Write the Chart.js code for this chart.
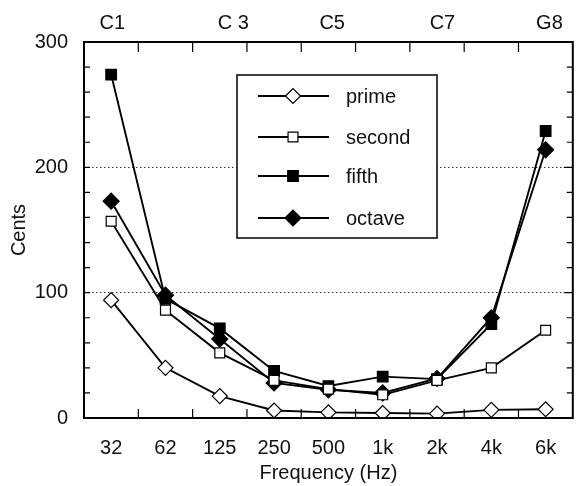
<!DOCTYPE html>
<html>
<head>
<meta charset="utf-8">
<script src="https://cdn.jsdelivr.net/npm/chart.js@4.4.1/dist/chart.umd.min.js"></script>
<style>
  html, body { margin: 0; padding: 0; background: #fff; }
  #wrap { width: 582px; height: 486px; position: relative; }
</style>
</head>
<body>
<div id="wrap"><canvas id="chart"></canvas></div>
<script>
// Frequency bands (bottom axis) and note names (top axis)
const freqLabels = ["32", "62", "125", "250", "500", "1k", "2k", "4k", "6k"];
const noteLabels = ["C1", "C 3", "C5", "C7", "G8"];
const notePositions = [0.02, 2.25, 4.07, 6.1, 8.07]; // in band-index units

// Cents per interval type
const prime = [94, 40, 17.5, 6, 4.5, 4, 3.5, 6.5, 7];
const second = [157, 86, 52, 30, 23, 18.5, 30, 40, 70];
const fifth = [274, 95, 71.5, 37.5, 25.5, 33, 31, 75, 229];
const octave = [173, 98, 63, 28, 22.5, 20, 31.5, 80, 214];

const yTicks = [0, 100, 200, 300];
const dottedLevels = [100, 200];

const FONT = "'Liberation Sans', Arial, sans-serif";
const INK = "#111";
const SIZE = 20;

function series(label, data, style, filled, radius) {
  return {
    label,
    data,
    borderColor: "#000",
    borderWidth: 1.9,
    tension: 0,
    pointStyle: style,
    pointRadius: radius,
    pointHoverRadius: radius,
    pointBackgroundColor: filled ? "#000" : "#fff",
    pointBorderColor: "#000",
    pointBorderWidth: 1.2,
  };
}

// Box, inward ticks and the boxed legend
const framePlugin = {
  id: "frame",
  afterDraw(chart) {
    const { ctx, chartArea: a } = chart;
    const x = chart.scales.x;
    const y = chart.scales.y;
    ctx.save();
    ctx.strokeStyle = "#000";
    ctx.lineWidth = 2;
    ctx.strokeRect(a.left, a.top, a.right - a.left, a.bottom - a.top);

    ctx.lineWidth = 1.2;
    ctx.beginPath();
    for (let i = 1; i < freqLabels.length; i += 1) {
      const bx = (x.getPixelForValue(i - 1) + x.getPixelForValue(i)) / 2;
      ctx.moveTo(bx, a.bottom);
      ctx.lineTo(bx, a.bottom - 9);
      ctx.moveTo(bx, a.top);
      ctx.lineTo(bx, a.top + 10);
    }
    for (let v = 20; v < 300; v += 20) {
      const py = y.getPixelForValue(v);
      const len = v % 100 === 0 ? 9 : 6;
      ctx.moveTo(a.left, py);
      ctx.lineTo(a.left + 6, py);
      ctx.moveTo(a.right, py);
      ctx.lineTo(a.right - len, py);
    }
    ctx.stroke();

    // legend
    const box = { left: 237, top: 75, right: 437, bottom: 238 };
    ctx.fillStyle = "#fff";
    ctx.fillRect(box.left, box.top, box.right - box.left, box.bottom - box.top);
    ctx.lineWidth = 1.5;
    ctx.strokeRect(box.left, box.top, box.right - box.left, box.bottom - box.top);
    const rows = [96, 137, 176, 218];
    chart.data.datasets.forEach((ds, i) => {
      const ry = rows[i];
      ctx.strokeStyle = "#000";
      ctx.lineWidth = 1.9;
      ctx.beginPath();
      ctx.moveTo(258, ry);
      ctx.lineTo(329, ry);
      ctx.stroke();
      ctx.fillStyle = ds.pointBackgroundColor;
      ctx.lineWidth = ds.pointBorderWidth;
      Chart.helpers.drawPoint(ctx, {
        pointStyle: ds.pointStyle,
        radius: ds.pointRadius,
        rotation: 0,
        borderWidth: ds.pointBorderWidth,
      }, 293, ry);
      ctx.fillStyle = INK;
      ctx.font = `${SIZE}px ${FONT}`;
      ctx.textAlign = "left";
      ctx.textBaseline = "middle";
      ctx.fillText(ds.label, 346, ry + 1);
    });
    ctx.restore();
  },
};

new Chart(document.getElementById("chart"), {
  type: "line",
  data: {
    labels: freqLabels,
    datasets: [
      series("prime", prime, "rectRot", false, 7.5),
      series("second", second, "rect", false, 7),
      series("fifth", fifth, "rect", true, 7.5),
      series("octave", octave, "rectRot", true, 8),
    ],
  },
  options: {
    responsive: true,
    maintainAspectRatio: false,
    animation: false,
    layout: { padding: { left: 0, right: -2, top: 0, bottom: 0 } },
    plugins: {
      legend: { display: false },
      tooltip: { enabled: false },
    },
    scales: {
      x: {
        position: "bottom",
        offset: true,
        grid: { display: false, drawTicks: false },
        border: { display: false },
        ticks: { color: INK, font: { family: FONT, size: SIZE }, padding: 18, maxRotation: 0 },
        title: {
          display: true,
          text: "Frequency (Hz)",
          color: INK,
          font: { family: FONT, size: SIZE },
          padding: { top: 0, bottom: 1 },
        },
        afterFit(scale) { scale.height = 68; },
      },
      xTop: {
        type: "linear",
        position: "top",
        min: -0.5,
        max: freqLabels.length - 0.5,
        grid: { display: false, drawTicks: false },
        border: { display: false },
        ticks: {
          color: INK,
          font: { family: FONT, size: SIZE },
          padding: 7,
          autoSkip: false,
          maxRotation: 0,
          callback: (v) => noteLabels[notePositions.indexOf(v)] ?? "",
        },
        afterBuildTicks(scale) { scale.ticks = notePositions.map((v) => ({ value: v })); },
        afterFit(scale) { scale.height = 42; },
      },
      y: {
        min: 0,
        max: 300,
        grid: {
          drawTicks: false,
          lineWidth: 1,
          color: (c) => (dottedLevels.includes(c.tick?.value) ? "#333" : "rgba(0,0,0,0)"),
        },
        border: { display: false, dash: [1.5, 2.5] },
        ticks: { color: INK, font: { family: FONT, size: SIZE }, padding: 16, stepSize: 100 },
        afterBuildTicks(scale) { scale.ticks = yTicks.map((v) => ({ value: v })); },
        title: {
          display: true,
          text: "Cents",
          color: INK,
          font: { family: FONT, size: SIZE },
          padding: { top: 7, bottom: 4 },
        },
        afterFit(scale) { scale.width = 84; },
      },
    },
  },
  plugins: [framePlugin],
});
</script>
</body>
</html>
